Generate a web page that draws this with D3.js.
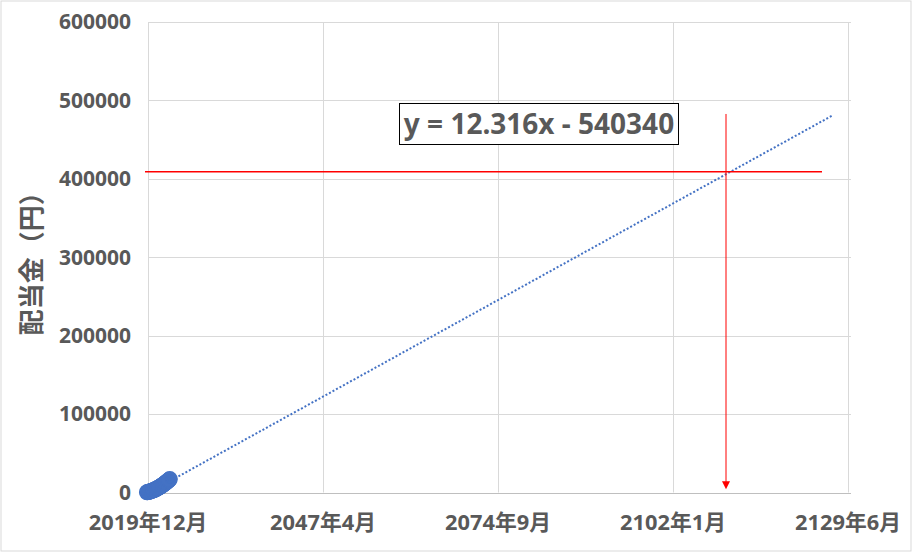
<!DOCTYPE html>
<html>
<head>
<meta charset="utf-8">
<script src="https://cdn.jsdelivr.net/npm/d3@7"></script>
<style>
  html, body { margin: 0; padding: 0; background: #fff; }
  svg { display: block; }
  text { font-family: "Noto Sans", "Noto Sans CJK JP", sans-serif; font-weight: bold; fill: #595959; }
</style>
</head>
<body>
<svg id="chart" width="912" height="553"></svg>
<script>
// ---- data ----
const monthLabels = [
  "2019-10","2019-11","2019-12","2020-01","2020-02","2020-03","2020-04","2020-05","2020-06","2020-07","2020-08","2020-09",
  "2020-10","2020-11","2020-12","2021-01","2021-02","2021-03","2021-04","2021-05","2021-06","2021-07","2021-08","2021-09",
  "2021-10","2021-11","2021-12","2022-01","2022-02","2022-03","2022-04","2022-05","2022-06","2022-07","2022-08","2022-09",
  "2022-10","2022-11","2022-12","2023-01","2023-02","2023-03","2023-04","2023-05"
];
const dividendValues = [
  300, 460, 610, 820, 980, 1210, 1390, 1640, 1840, 2120, 2350, 2640,
  2900, 3210, 3480, 3830, 4120, 4490, 4800, 5190, 5520, 5940, 6290, 6730,
  7110, 7560, 7960, 8450, 8880, 9380, 9820, 10350, 10820, 11370, 11860, 12430,
  12950, 13530, 14070, 14690, 15240, 15880, 16460, 17100
];
const xTickSerials = [43800, 53800, 63800, 73800, 83800];
const xTickLabels = ["2019年12月", "2047年4月", "2074年9月", "2102年1月", "2129年6月"];
const yTickValues = [0, 100000, 200000, 300000, 400000, 500000, 600000];
const yTickLabels = ["0", "100000", "200000", "300000", "400000", "500000", "600000"];
const trendSlope = 12.316;
const trendIntercept = -540340;
const trendEndSerial = 82900;
const equationText = "y = 12.316x - 540340";
const yAxisTitle = "配当金（円）";
const targetValue = 409000;          // horizontal red line
const targetLineSerials = [43629, 82314];
const arrowSerial = 76811;           // vertical red arrow
const arrowValues = [482700, 4000];

// ---- helpers ----
const excelEpoch = Date.UTC(1899, 11, 30);
function toSerial(ym) {
  const [y, m] = ym.split("-").map(Number);
  return (Date.UTC(y, m - 1, 1) - excelEpoch) / 86400000;
}
const points = monthLabels.map((m, i) => ({ x: toSerial(m), y: dividendValues[i] }));

// ---- layout ----
const svg = d3.select("#chart");
const W = 912, H = 553;
const plot = { left: 148, right: 848, top: 22, bottom: 492.5 };
const x = d3.scaleLinear().domain([xTickSerials[0], xTickSerials[xTickSerials.length - 1]]).range([plot.left, plot.right]);
const y = d3.scaleLinear().domain([0, 600000]).range([plot.bottom, plot.top]);

svg.append("rect").attr("width", W).attr("height", H).attr("fill", "#fff");
svg.append("rect").attr("x", 1).attr("y", 1).attr("width", 910).attr("height", 550)
  .attr("fill", "none").attr("stroke", "#d9d9d9").attr("stroke-width", 1);

// gridlines
svg.append("g").selectAll("line").data(yTickValues).join("line")
  .attr("x1", plot.left).attr("x2", plot.right + 3)
  .attr("y1", d => Math.round(y(d)) + 0.5).attr("y2", d => Math.round(y(d)) + 0.5)
  .attr("stroke", d => d === 0 ? "#bfbfbf" : "#d9d9d9").attr("stroke-width", 1);
svg.append("g").selectAll("line").data(xTickSerials).join("line")
  .attr("x1", d => Math.round(x(d)) + 0.5).attr("x2", d => Math.round(x(d)) + 0.5)
  .attr("y1", plot.top).attr("y2", plot.bottom)
  .attr("stroke", "#d9d9d9").attr("stroke-width", 1);

// y tick labels
svg.append("g").selectAll("text").data(yTickValues).join("text")
  .attr("x", 131).attr("y", d => y(d)).attr("dy", "0.35em")
  .attr("text-anchor", "end").attr("font-size", 21)
  .text((d, i) => yTickLabels[i]);

// x tick labels
svg.append("g").selectAll("text").data(xTickSerials).join("text")
  .attr("x", d => x(d)).attr("y", 529.5)
  .attr("text-anchor", "middle").attr("font-size", 21.8)
  .text((d, i) => xTickLabels[i]);

// y axis title
svg.append("text")
  .attr("transform", `translate(41, ${(plot.top + plot.bottom) / 2}) rotate(-90)`)
  .attr("text-anchor", "middle").attr("font-size", 26)
  .text(yAxisTitle);

// trendline
const trendX = [points[0].x, trendEndSerial];
svg.append("line")
  .attr("x1", x(trendX[0])).attr("y1", y(trendSlope * trendX[0] + trendIntercept))
  .attr("x2", x(trendX[1])).attr("y2", y(trendSlope * trendX[1] + trendIntercept))
  .attr("stroke", "#4472c4").attr("stroke-width", 2).attr("stroke-dasharray", "2,2");

// points
svg.append("g").selectAll("circle").data(points).join("circle")
  .attr("cx", d => x(d.x)).attr("cy", d => y(d.y)).attr("r", 6.5)
  .attr("fill", "none").attr("stroke", "#4472c4").attr("stroke-width", 3);

// red horizontal line
svg.append("line")
  .attr("x1", x(targetLineSerials[0])).attr("x2", x(targetLineSerials[1]))
  .attr("y1", y(targetValue)).attr("y2", y(targetValue))
  .attr("stroke", "#ff0000").attr("stroke-width", 1.5);

// red vertical arrow
const ax = Math.round(x(arrowSerial));
const ay1 = y(arrowValues[0]), ay2 = y(arrowValues[1]);
svg.append("line")
  .attr("x1", ax).attr("x2", ax).attr("y1", ay1).attr("y2", ay2 - 6)
  .attr("stroke", "#ff0000").attr("stroke-width", 1);
svg.append("path")
  .attr("d", `M${ax - 4},${ay2 - 8} L${ax + 4},${ay2 - 8} L${ax},${ay2} Z`)
  .attr("fill", "#ff0000");

// equation box
svg.append("rect").attr("x", 399.5).attr("y", 103.5).attr("width", 279).attr("height", 41)
  .attr("fill", "#fff").attr("stroke", "#000").attr("stroke-width", 1);
svg.append("text").attr("x", 539).attr("y", 134)
  .attr("text-anchor", "middle").attr("font-size", 28)
  .text(equationText);
</script>
</body>
</html>
